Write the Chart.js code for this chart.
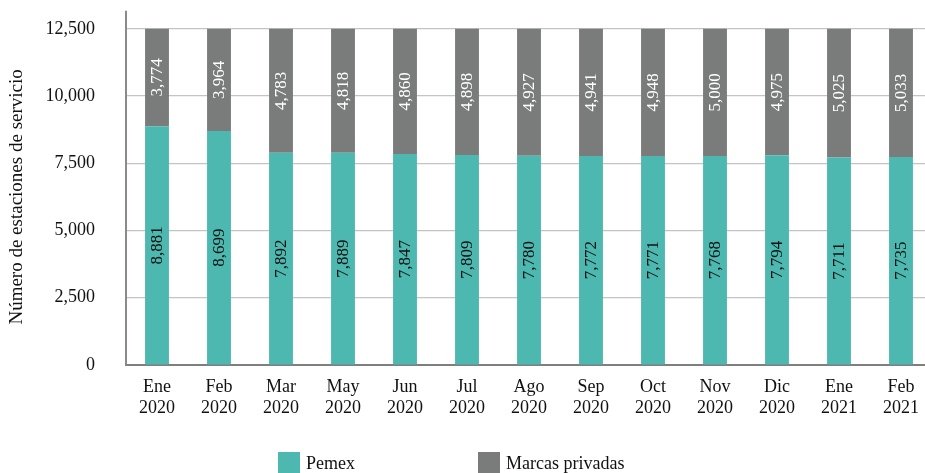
<!DOCTYPE html>
<html lang="es">
<head>
<meta charset="utf-8">
<title>Estaciones de servicio</title>
<script src="https://cdn.jsdelivr.net/npm/chart.js@4.4.1/dist/chart.umd.min.js"></script>
<style>
    html, body { margin: 0; padding: 0; background: #fff; overflow: hidden; }
    #wrap { position: relative; width: 932px; height: 473px; overflow: hidden; }
    #stationsChart { position: absolute; left: 0; top: -13px; }
    .legend { position: absolute; top: 452px; left: 278px; display: flex; align-items: center;
              font-family: "Liberation Serif", "DejaVu Serif", serif; font-size: 18px; color: #111; }
    .legend span.box { display: inline-block; width: 22px; height: 22px; margin-right: 6px; }
    .legend .item { display: flex; align-items: center; }
</style>
</head>
<body>
<div id="wrap">
    <canvas id="stationsChart" width="932" height="486"></canvas>
    <div class="legend">
        <div class="item" style="width:200px"><span class="box" style="background:#4cb8b0"></span>Pemex</div>
        <div class="item"><span class="box" style="background:#7a7c7c"></span>Marcas privadas</div>
    </div>
</div>
<script>
// Estaciones de servicio por mes
const months = ['Ene', 'Feb', 'Mar', 'May', 'Jun', 'Jul', 'Ago', 'Sep', 'Oct', 'Nov', 'Dic', 'Ene', 'Feb'];
const years = ['2020', '2020', '2020', '2020', '2020', '2020', '2020', '2020', '2020', '2020', '2020', '2021', '2021'];
const pemex = [8881, 8699, 7892, 7889, 7847, 7809, 7780, 7772, 7771, 7768, 7794, 7711, 7735];
const marcasPrivadas = [3774, 3964, 4783, 4818, 4860, 4898, 4927, 4941, 4948, 5000, 4975, 5025, 5033];
const yTicks = [0, 2500, 5000, 7500, 10000, 12500];

const serif = '"Liberation Serif", "DejaVu Serif", serif';
const labels = months.map((m, i) => [m, years[i]]);

// etiquetas giradas dentro de cada segmento visible
const barLabels = {
    id: 'barLabels',
    afterDatasetsDraw(chart) {
        const ctx = chart.ctx;
        const area = chart.chartArea;
        ctx.save();
        ctx.font = '17px ' + serif;
        ctx.textAlign = 'center';
        ctx.textBaseline = 'middle';
        chart.data.datasets.forEach((ds, di) => {
            const meta = chart.getDatasetMeta(di);
            ctx.fillStyle = ds.labelColor;
            meta.data.forEach((bar, i) => {
                const p = bar.getProps(['x', 'y', 'base'], true);
                const top = Math.max(Math.min(p.y, p.base), area.top);
                const bottom = Math.min(Math.max(p.y, p.base), area.bottom);
                ctx.save();
                ctx.translate(p.x, (top + bottom) / 2);
                ctx.rotate(-Math.PI / 2);
                ctx.fillText(ds.data[i].toLocaleString('en-US'), 0, 1);
                ctx.restore();
            });
        });
        ctx.restore();
    }
};

// el eje vertical sobresale un poco por arriba
const axisTop = {
    id: 'axisTop',
    afterDraw(chart) {
        const ctx = chart.ctx;
        const area = chart.chartArea;
        ctx.save();
        ctx.strokeStyle = '#8a8a8a';
        ctx.lineWidth = 2;
        ctx.beginPath();
        ctx.moveTo(area.left, area.top - 18);
        ctx.lineTo(area.left, area.top);
        ctx.stroke();
        ctx.restore();
    }
};

new Chart(document.getElementById('stationsChart').getContext('2d'), {
    type: 'bar',
    data: {
        labels: labels,
        datasets: [{
            label: 'Pemex',
            data: pemex,
            backgroundColor: '#4cb8b0',
            labelColor: '#111111',
            clip: 0
        }, {
            label: 'Marcas privadas',
            data: marcasPrivadas,
            backgroundColor: '#7a7c7c',
            labelColor: '#ffffff',
            clip: 0
        }]
    },
    options: {
        responsive: false,
        animation: false,
        locale: 'en-US',
        layout: { padding: { top: 15, left: 6, right: 0, bottom: 48 } },
        datasets: { bar: { barPercentage: 0.385, categoryPercentage: 1 } },
        plugins: {
            legend: { display: false },
            tooltip: { enabled: false }
        },
        scales: {
            x: {
                stacked: true,
                grid: { display: false, drawTicks: false },
                border: { color: '#7f7f7f', width: 2 },
                ticks: {
                    color: '#111',
                    padding: 12,
                    maxRotation: 0,
                    font: { family: serif, size: 18, lineHeight: 1.15 }
                },
                afterFit(scale) { scale.height = 60; }
            },
            y: {
                stacked: true,
                min: 0,
                max: yTicks[yTicks.length - 1],
                afterBuildTicks(scale) { scale.ticks = yTicks.map(v => ({ value: v })); },
                grid: { color: '#c4c4c4', lineWidth: 1.2, drawTicks: false },
                border: { color: '#8a8a8a', width: 2 },
                ticks: {
                    color: '#111',
                    padding: 31,
                    font: { family: serif, size: 18 },
                    callback: v => v.toLocaleString('en-US')
                },
                title: {
                    display: true,
                    text: 'Número de estaciones de servicio',
                    color: '#111',
                    padding: 0,
                    font: { family: serif, size: 19 }
                },
                afterFit(scale) { scale.width = 120; }
            }
        }
    },
    plugins: [barLabels, axisTop]
});
</script>
</body>
</html>
